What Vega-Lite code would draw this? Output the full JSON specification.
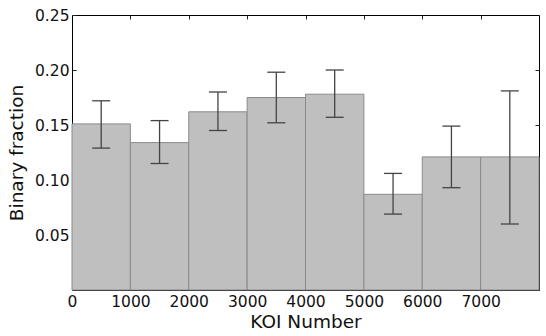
{
  "$schema": "https://vega.github.io/schema/vega-lite/v6.json",
  "width": 467,
  "height": 275,
  "autosize": "none",
  "padding": {"left": 72, "top": 15, "right": 7, "bottom": 46},
  "config": {
    "view": {"stroke": "#000", "strokeWidth": 1},
    "font": "DejaVu Sans",
    "axis": {
      "domain": false,
      "grid": false,
      "labelFont": "DejaVu Sans",
      "titleFont": "DejaVu Sans",
      "labelFontSize": 15.5,
      "titleFontSize": 18.5,
      "titleFontWeight": "normal",
      "labelColor": "#111",
      "titleColor": "#111",
      "tickColor": "#222",
      "tickSize": -4,
      "tickWidth": 1,
      "labelFlush": false
    }
  },
  "data": {
    "values": [
      {"start": 0, "end": 1000, "mid": 500, "frac": 0.151, "lo": 0.129, "hi": 0.172},
      {"start": 1000, "end": 2000, "mid": 1500, "frac": 0.134, "lo": 0.115, "hi": 0.154},
      {"start": 2000, "end": 3000, "mid": 2500, "frac": 0.162, "lo": 0.145, "hi": 0.180},
      {"start": 3000, "end": 4000, "mid": 3500, "frac": 0.175, "lo": 0.152, "hi": 0.198},
      {"start": 4000, "end": 5000, "mid": 4500, "frac": 0.178, "lo": 0.157, "hi": 0.200},
      {"start": 5000, "end": 6000, "mid": 5500, "frac": 0.087, "lo": 0.069, "hi": 0.106},
      {"start": 6000, "end": 7000, "mid": 6500, "frac": 0.121, "lo": 0.093, "hi": 0.149},
      {"start": 7000, "end": 8000, "mid": 7500, "frac": 0.121, "lo": 0.060, "hi": 0.181}
    ]
  },
  "layer": [
    {
      "mark": {"type": "bar", "fill": "#bfbfbf", "stroke": "#8a8a8a", "strokeWidth": 1},
      "encoding": {
        "x": {
          "field": "start", "type": "quantitative",
          "scale": {"domain": [0, 8000], "nice": false},
          "axis": {"orient": "bottom", "values": [0, 1000, 2000, 3000, 4000, 5000, 6000, 7000], "format": "d", "title": "KOI Number", "labelPadding": 8, "titlePadding": 3}
        },
        "x2": {"field": "end"},
        "y": {
          "field": "frac", "type": "quantitative",
          "scale": {"domain": [0, 0.25], "nice": false},
          "axis": {"orient": "left", "values": [0.05, 0.1, 0.15, 0.2, 0.25], "format": ".2f", "title": "Binary fraction", "labelPadding": 7, "titlePadding": 8}
        },
        "y2": {"datum": 0}
      }
    },
    {
      "mark": {"type": "rule", "color": "#444", "strokeWidth": 1.3},
      "encoding": {
        "x": {"field": "mid", "type": "quantitative", "axis": {"orient": "top", "values": [1000, 2000, 3000, 4000, 5000, 6000, 7000], "labels": false, "title": null}},
        "y": {"field": "lo", "type": "quantitative", "axis": {"orient": "right", "values": [0.05, 0.1, 0.15, 0.2], "labels": false, "title": null}},
        "y2": {"field": "hi"}
      }
    },
    {
      "mark": {"type": "tick", "orient": "horizontal", "size": 18, "thickness": 1.3, "color": "#444", "opacity": 1},
      "encoding": {
        "x": {"field": "mid", "type": "quantitative", "axis": null},
        "y": {"field": "lo", "type": "quantitative", "axis": null}
      }
    },
    {
      "mark": {"type": "tick", "orient": "horizontal", "size": 18, "thickness": 1.3, "color": "#444", "opacity": 1},
      "encoding": {
        "x": {"field": "mid", "type": "quantitative", "axis": null},
        "y": {"field": "hi", "type": "quantitative", "axis": null}
      }
    }
  ],
  "resolve": {"axis": {"x": "independent", "y": "independent"}}
}
